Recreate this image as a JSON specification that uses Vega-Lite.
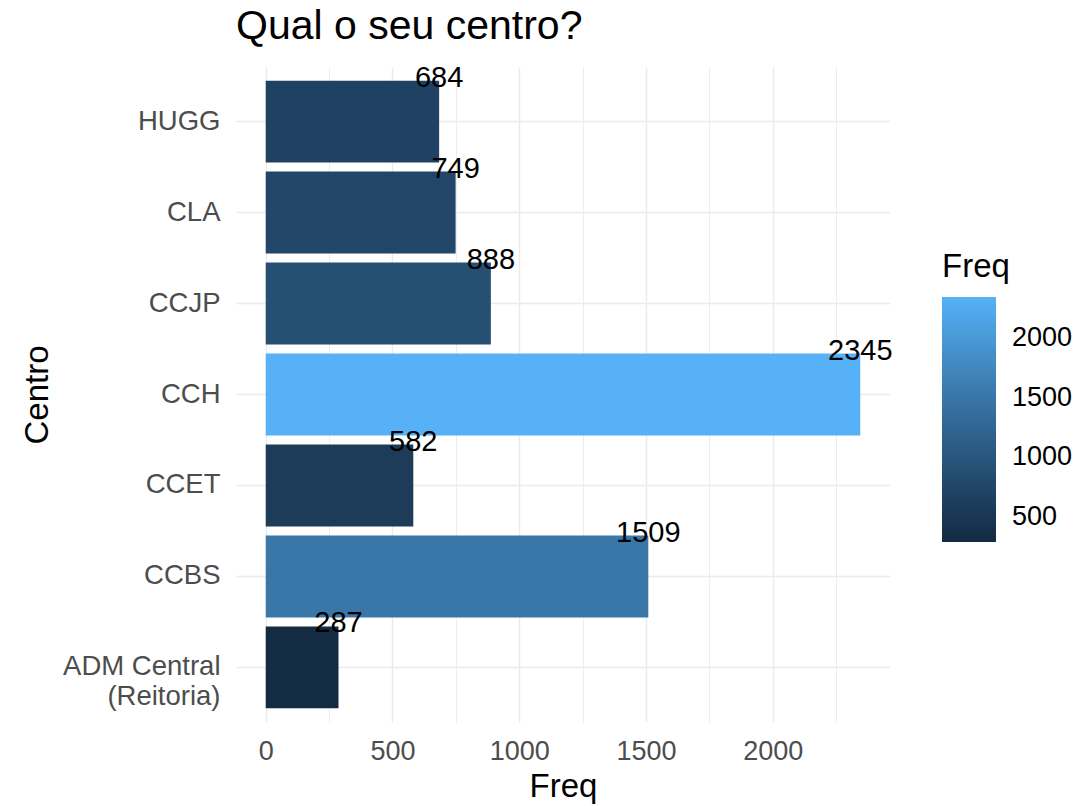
{
  "$schema": "https://vega.github.io/schema/vega-lite/v6.json",
  "width": 654,
  "height": 655,
  "autosize": {"type": "none"},
  "padding": {"left": 236, "top": 67, "right": 194, "bottom": 84},
  "background": "white",
  "title": {
    "text": "Qual o seu centro?",
    "anchor": "start",
    "frame": "group",
    "font": "Liberation Sans",
    "fontSize": 41,
    "fontWeight": "normal",
    "color": "black",
    "offset": 16
  },
  "config": {
    "view": {"stroke": null},
    "font": "Liberation Sans"
  },
  "data": {
    "values": [
      {"Centro": "HUGG", "Freq": 684},
      {"Centro": "CLA", "Freq": 749},
      {"Centro": "CCJP", "Freq": 888},
      {"Centro": "CCH", "Freq": 2345},
      {"Centro": "CCET", "Freq": 582},
      {"Centro": "CCBS", "Freq": 1509},
      {"Centro": "ADM Central\u00a0\n(Reitoria)", "Freq": 287}
    ]
  },
  "layer": [
    {
      "mark": {"type": "bar"},
      "encoding": {
        "y": {
          "field": "Centro",
          "type": "nominal",
          "sort": ["HUGG", "CLA", "CCJP", "CCH", "CCET", "CCBS", "ADM Central\u00a0\n(Reitoria)"],
          "scale": {"paddingInner": 0.1, "paddingOuter": 0.15},
          "axis": {
            "title": "Centro",
            "titleFontSize": 33,
            "titleFontWeight": "normal",
            "titleColor": "black",
            "titlePadding": 8,
            "labelFontSize": 27.5,
            "labelColor": "#4D4D4D",
            "labelPadding": 16,
            "labelLineHeight": 30,
            "labelExpr": "split(datum.label, '\\n')",
            "ticks": false,
            "domain": false,
            "grid": true,
            "gridColor": "#EBEBEB",
            "gridWidth": 1.3,
            "bandPosition": 0.5
          }
        },
        "x": {
          "field": "Freq",
          "type": "quantitative",
          "scale": {"domain": [-117.25, 2462.25], "nice": false, "zero": false},
          "axis": {
            "title": "Freq",
            "titleFontSize": 33,
            "titleFontWeight": "normal",
            "titleColor": "black",
            "titlePadding": 6,
            "values": [0, 250, 500, 750, 1000, 1250, 1500, 1750, 2000, 2250],
            "labelExpr": "datum.value % 500 === 0 ? format(datum.value, 'd') : ''",
            "labelFontSize": 27,
            "labelColor": "#4D4D4D",
            "labelPadding": 16,
            "ticks": false,
            "domain": false,
            "grid": true,
            "gridColor": "#EBEBEB",
            "gridWidth": {"condition": {"test": "datum.value % 500 === 0", "value": 1.4}, "value": 0.9}
          }
        },
        "x2": {"datum": 0},
        "color": {
          "field": "Freq",
          "type": "quantitative",
          "scale": {"domain": [287, 2345], "range": ["#132B43", "#56B1F7"], "interpolate": "lab"},
          "legend": {
            "orient": "none",
            "legendX": 706,
            "legendY": 184,
            "title": "Freq",
            "titleFontSize": 33,
            "titleFontWeight": "normal",
            "titleColor": "black",
            "titlePadding": 13,
            "gradientLength": 245,
            "gradientThickness": 54,
            "gradientStrokeWidth": 0,
            "values": [500, 1000, 1500, 2000],
            "format": "d",
            "labelFontSize": 27,
            "labelColor": "black",
            "labelOffset": 16,
            "direction": "vertical"
          }
        }
      }
    },
    {
      "mark": {"type": "text", "baseline": "middle", "align": "center", "fontSize": 29, "color": "black", "dy": -3},
      "encoding": {
        "y": {
          "field": "Centro",
          "type": "nominal",
          "sort": ["HUGG", "CLA", "CCJP", "CCH", "CCET", "CCBS", "ADM Central\u00a0\n(Reitoria)"],
          "bandPosition": 0
        },
        "x": {"field": "Freq", "type": "quantitative"},
        "text": {"field": "Freq", "type": "quantitative", "format": "d"}
      }
    }
  ]
}
